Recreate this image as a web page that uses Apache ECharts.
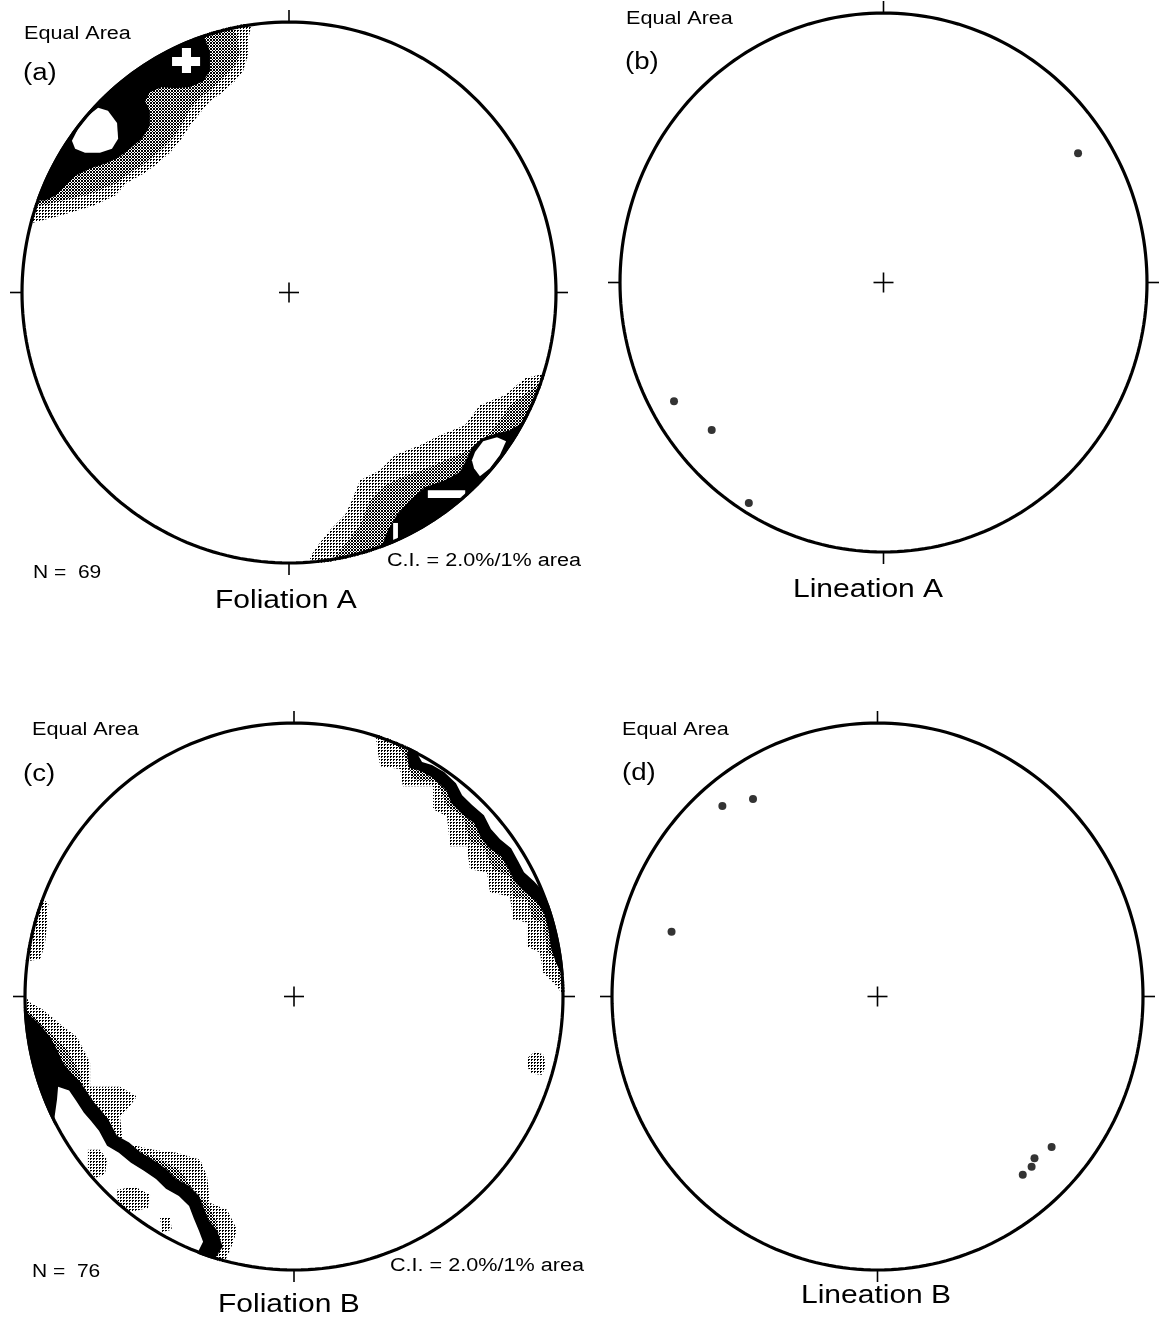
<!DOCTYPE html>
<html>
<head>
<meta charset="utf-8">
<script src="https://cdn.jsdelivr.net/npm/echarts@6/dist/echarts.min.js"></script>
<style>
html, body { margin: 0; padding: 0; background: #fff; }
#chart { width: 1164px; height: 1322px; }
</style>
</head>
<body>
<div id="chart"></div>
<script>
// ---- Lineations: [trend, plunge] in degrees (lower hemisphere) ----
const lineationA = [[57, 13], [241, 10], [230, 16], [212, 4]];
const lineationB = [[320, 10], [327, 15], [287, 20], [130, 15.5], [135, 17.5], [137, 16], [140, 16]];

// ---- Foliation pole density contours (equal-area coordinates, % of primitive radius) ----
// Level 1 = light stipple, 2 = dense stipple, 3 = black, 4 = highest (white)
// Foliation A, NW concentration
const folA_nw1 = [[-95.9,25.8],[-85.8,28.4],[-73.4,32.1],[-65.2,35.8],[-60.7,40.6],[-53.9,44.3],[-49.4,47.6],[-44.6,51.7],[-40.8,56.1],[-37.1,61.6],[-33.3,66.4],[-29.6,70.8],[-25.1,73.8],[-20.2,78.2],[-17.2,81.9],[-15.4,87.5],[-15.4,93.0],[-14.6,96.7],[-12,108],[-50,98],[-80,78],[-100,50],[-108,26]];
const folA_nw2 = [[-93.3,32.1],[-82,34.7],[-74.5,36.5],[-68.9,38.7],[-64.4,40.6],[-59.6,44.3],[-55.1,46.9],[-48.3,52.4],[-42.7,57.9],[-39,64.2],[-37.1,67.9],[-33.3,72],[-28.5,75.6],[-24,80.1],[-20.2,83.8],[-18.4,88.6],[-19.5,94.8],[-21,97.4],[-22,110],[-60,95],[-85,72],[-105,32]];
const folA_nw3 = [[-91.4,33.9],[-87.6,35.8],[-83.9,39.5],[-80.1,43.2],[-74.5,45.8],[-68.9,47.6],[-64,49.8],[-59.6,53.1],[-55.1,56.8],[-52.1,61.6],[-52.1,67.2],[-53.9,70.8],[-52.1,74],[-47.6,76],[-42.7,75.5],[-37.1,76],[-32.2,78],[-29.6,82],[-29.6,89.3],[-31.5,93.7],[-32,108],[-70,85],[-95,55],[-104,35]];
const folA_nw4a = [[-81.3,56.1],[-79,60.5],[-75.3,65.3],[-71.5,68.3],[-67.8,67.2],[-64.4,62.7],[-64,56.8],[-66.3,53.1],[-70.8,51.7],[-76.4,51.7],[-80.1,53.1]];
const folA_nw4b = [[-40.1,90.4],[-36.7,90.4],[-36.7,87.1],[-33.3,87.1],[-33.3,83.7],[-36.7,83.7],[-36.7,81.1],[-40.1,81.1],[-40.1,83.7],[-43.8,83.7],[-43.8,87.1],[-40.1,87.1]];
// Foliation A, SE concentration
const folA_se1 = [[7.9,-97.8],[10.9,-93.4],[15.4,-87.8],[21,-82.3],[23.6,-76.8],[26.6,-69.4],[34.1,-65.7],[39.7,-60.1],[49.1,-56.5],[56.6,-52.8],[65.9,-49.1],[71.5,-41.7],[80.9,-38],[88.4,-31.7],[95.9,-29.9],[102,-36],[85,-68],[55,-95],[8,-110]];
const folA_se2 = [[17.2,-97.4],[20.2,-94.1],[26.6,-86],[30.3,-76.8],[36,-71.2],[41.6,-68.6],[51.7,-64.9],[60.3,-61.3],[68.9,-57.6],[74.2,-52.8],[79,-47.2],[82.8,-41.7],[90.3,-36.2],[94.8,-32.5],[101,-40],[82,-72],[52,-98],[17,-108]];
const folA_se3 = [[34.1,-95.2],[37.1,-87.8],[40.4,-82.3],[45.3,-76.8],[50.9,-72],[58.4,-69.4],[64,-66.4],[66.3,-62],[68.5,-57.2],[72.3,-53.9],[77.9,-52],[82.8,-50.9],[86.5,-48.7],[89.1,-45],[98,-52],[80,-80],[55,-100],[34,-106]];
const folA_se4a = [[69.7,-59],[72.7,-55],[77.9,-53.5],[81.3,-55],[79,-60.1],[75.3,-65],[71.5,-67.9],[69.3,-65],[68.5,-62]];
const folA_se4b = [[52,-73.1],[66,-73.1],[66,-76],[52,-76]];
const folA_se4c = [[39,-85.2],[40.8,-85.2],[40.8,-91.5],[39,-91.5]];

// Foliation B, NE girdle
const folB_ne1 = [[30.5,94.1],[32,84.2],[39.4,83.2],[40.5,76.9],[51.7,76.9],[51.7,68.5],[56.9,65.9],[58,54.9],[64.3,54.9],[65.4,46.5],[71.7,45.4],[72.9,38.1],[80.3,36.6],[81.4,28.2],[86.6,27.1],[86.6,18.3],[91.4,16.1],[92.6,8.8],[97.8,3.7],[99.3,1.5],[110,0],[100,50],[70,85],[32,105]];
const folB_ne2 = [[37.5,92.3],[40.5,89.4],[44.2,79.5],[53.2,78.4],[56.9,69.6],[62.8,65.9],[65.4,56.4],[70.3,54.9],[74,46.5],[80.3,44],[81.4,36.6],[86.6,35.5],[88.8,28.2],[92.6,27.1],[94.1,16.1],[97.8,13.6],[98.9,5.1],[99.6,2.6],[110,0],[100,50],[70,85],[37,104]];
const folB_ne3 = [[42,88.5],[42.8,83.6],[47.3,82.4],[51.8,79.8],[56.6,75.4],[58.5,70.7],[62.2,67],[67,63.3],[69.6,57.8],[72.6,54.2],[77,51.2],[79.6,46.9],[81.9,42.1],[85.6,38.4],[90,34.8],[93,30.4],[94.5,24.9],[95.6,17.5],[97.5,12.1],[99.5,8.1],[110,5],[100,50],[70,85],[45,100]];
const folB_ne4 = [[46.1,88.3],[47.6,85.7],[51.3,84.6],[55.8,82.1],[60.2,78],[62.5,73.6],[66.2,70],[70.6,66.3],[73.2,61.2],[76.6,57.5],[80.7,54.2],[83.3,49.5],[85.5,45.4],[89.2,42.1],[92.6,38.5],[94.8,33.7],[106,38],[95,60],[70,85],[48,100]];
// Foliation B, minor patches
const folB_w1 = [[-93.7,36.3],[-91.4,33.7],[-91.8,26.4],[-92.6,19],[-94.4,13.6],[-106,12],[-106,30],[-100,42]];
const folB_e1 = [[87,-22.3],[89.6,-20.1],[92.6,-21.2],[93.7,-24.9],[92.2,-28.6],[88.5,-28.2],[86.6,-25.6]];
// Foliation B, SW girdle
const folB_sw1 = [[-99.6,-0.4],[-98.1,-2.2],[-93.3,-4.8],[-85.9,-11],[-80.7,-14.7],[-75.8,-24.2],[-75.8,-33],[-64.7,-33],[-58.4,-36.6],[-62.1,-41.4],[-64.7,-44],[-63.6,-53.5],[-52.4,-56],[-43.5,-57.1],[-34.9,-59.7],[-32.3,-65.9],[-31.2,-75.5],[-24.9,-78],[-21.2,-85.3],[-22.7,-90.1],[-25.6,-96.7],[-27,-108],[-70,-85],[-100,-45],[-110,0]];
const folB_sw2 = [[-100,-4],[-91.8,-12.1],[-84.4,-19.4],[-79.6,-27.8],[-77,-37.7],[-69.5,-44],[-65.8,-51.3],[-58.4,-56],[-49.8,-59.7],[-42.4,-63.4],[-37.5,-70.7],[-32.3,-75.5],[-28.6,-82.8],[-27.5,-90.1],[-28.3,-95.6],[-30,-108],[-70,-85],[-100,-45],[-110,-4]];
const folB_sw3 = [[-99.6,-5.5],[-94.4,-10.3],[-90.7,-14.7],[-88.1,-19.4],[-85.9,-24.2],[-82.9,-27.8],[-79.9,-30.7],[-77.3,-34.4],[-74.3,-38.8],[-71.7,-41.7],[-68.8,-45.4],[-65.8,-50.9],[-61.3,-53.4],[-56.9,-57.1],[-52,-60],[-47.6,-63],[-43.9,-66.6],[-39,-69.2],[-35.3,-72.9],[-33.4,-77.6],[-31.6,-82],[-28.6,-85.5],[-26.5,-91.5],[-29.4,-95.6],[-31,-107],[-70,-86],[-100,-46],[-110,-5]];
const folB_sw4 = [[-87.7,-33],[-83.6,-34.4],[-81,-38.1],[-78.1,-42.5],[-75.5,-45.4],[-72.5,-49.1],[-69.5,-54.6],[-65.1,-57.1],[-60.6,-60.8],[-55.8,-63.7],[-51.3,-66.7],[-47.6,-70.3],[-42.8,-72.9],[-39,-76.6],[-37.2,-81.3],[-35.3,-85.7],[-33.8,-89.7],[-35.7,-93.4],[-40,-105],[-65,-88],[-85,-70],[-89.2,-45.4],[-88.1,-37.7]];
const folB_sw5 = [[-76.6,-56],[-72.1,-56],[-69.5,-59.7],[-70.3,-65.2],[-74,-66.3],[-76.6,-62.6]];
const folB_sw6 = [[-65.8,-70.7],[-59.1,-69.6],[-53.5,-72.5],[-54.3,-77.3],[-60.9,-78.8],[-65.4,-75.5]];
const folB_sw7 = [[-49.8,-81],[-46.1,-81],[-45.4,-85.3],[-49.1,-86.1]];

// ---- Text ----
const panelLetters = ['(a)', '(b)', '(c)', '(d)'];
const panelTitles = ['Foliation A', 'Lineation A', 'Foliation B', 'Lineation B'];
const poleCounts = ['N =  69', null, 'N =  76', null];
const contourNote = 'C.I. = 2.0%/1% area';
const netName = 'Equal Area';

// Contour bands in drawing order (lowest level first)
const contoursA = [
  [1, folA_nw1], [1, folA_se1],
  [2, folA_nw2], [2, folA_se2],
  [3, folA_nw3], [3, folA_se3],
  [4, folA_nw4a], [4, folA_nw4b], [4, folA_se4a], [4, folA_se4b], [4, folA_se4c]
];
const contoursB = [
  [1, folB_ne1], [1, folB_sw1], [1, folB_w1], [1, folB_e1],
  [2, folB_ne2], [2, folB_sw2],
  [3, folB_ne3], [3, folB_sw3],
  [4, folB_ne4], [4, folB_sw4],
  [1, folB_sw5], [1, folB_sw6], [1, folB_sw7]
];

// ---- Layout of the four nets ----
const nets = [
  { grid: { left: 22, top: 22, width: 534, height: 541 }, contours: contoursA, points: null,
    text: { net: [24, 34], letter: [23, 74], count: [33, 573], note: [387, 561], title: [215, 601] } },
  { grid: { left: 620, top: 13, width: 527, height: 539 }, contours: null, points: lineationA,
    text: { net: [626, 19], letter: [625, 63], title: [793, 590] } },
  { grid: { left: 25, top: 723, width: 538, height: 547 }, contours: contoursB, points: null,
    text: { net: [32, 730], letter: [23, 775], count: [32, 1272], note: [390, 1266], title: [218, 1305] } },
  { grid: { left: 612, top: 723, width: 531, height: 547 }, contours: null, points: lineationB,
    text: { net: [622, 730], letter: [622, 774], title: [801, 1296] } }
];

// Stipple fills for the contour levels
function stipple(size, rects) {
  const c = document.createElement('canvas');
  c.width = size; c.height = size;
  const g = c.getContext('2d');
  g.fillStyle = '#fff'; g.fillRect(0, 0, size, size);
  g.fillStyle = '#000';
  rects.forEach(r => g.fillRect(r[0], r[1], r[2], r[3]));
  return { image: c, repeat: 'repeat' };
}
const levelFill = {
  1: stipple(3, [[0, 0, 2, 1], [0, 1, 1, 1]]),
  2: stipple(3, [[0, 0, 2, 2], [2, 2, 1, 1]]),
  3: '#000',
  4: '#fff'
};

// Equal-area (Schmidt) projection of a line, in % of primitive radius
function projectLine(tp) {
  const t = tp[0] * Math.PI / 180;
  const theta = (90 - tp[1]) * Math.PI / 180;
  const r = Math.SQRT2 * Math.sin(theta / 2) * 100;
  return [r * Math.sin(t), r * Math.cos(t)];
}

function ellipse(api, f) {
  const pts = [];
  const n = 240;
  for (let k = 0; k < n; k++) {
    const a = k / n * 2 * Math.PI;
    pts.push(api.coord([100 * f * Math.cos(a), 100 * f * Math.sin(a)]));
  }
  return pts;
}

const series = [];
nets.forEach((net, i) => {
  if (net.contours) {
    const bands = net.contours;
    series.push({
      type: 'custom', xAxisIndex: i, yAxisIndex: i, z: 2, silent: true, clip: false,
      data: bands.map(() => [0, 0]),
      renderItem: (params, api) => {
        const b = bands[params.dataIndex];
        return {
          type: 'polygon',
          shape: { points: b[1].map(v => api.coord(v)) },
          style: { fill: levelFill[b[0]], lineWidth: 0 }
        };
      }
    });
  }
});
// White surround that trims contour bands to the primitive circle
nets.forEach((net, i) => {
  series.push({
    type: 'custom', xAxisIndex: i, yAxisIndex: i, z: 3, silent: true, clip: false,
    data: [[0, 0]],
    renderItem: (params, api) => {
      const s = api.size([100, 100]);
      const f = 1 + 21.5 / Math.min(s[0], s[1]);
      return { type: 'polygon', shape: { points: ellipse(api, f) },
        style: { fill: 'none', stroke: '#fff', lineWidth: 40 } };
    }
  });
});
// Primitive circle, tick marks and centre cross
nets.forEach((net, i) => {
  series.push({
    type: 'custom', xAxisIndex: i, yAxisIndex: i, z: 4, silent: true, clip: false,
    data: [[0, 0]],
    renderItem: (params, api) => {
      const n = api.coord([0, 100]), s = api.coord([0, -100]);
      const e = api.coord([100, 0]), w = api.coord([-100, 0]);
      const c = api.coord([0, 0]);
      const tl = 12, ln = { stroke: '#000', lineWidth: 1.6 };
      return {
        type: 'group',
        children: [
          { type: 'polygon', shape: { points: ellipse(api, 1) }, style: { fill: 'none', stroke: '#000', lineWidth: 3.2 } },
          { type: 'line', shape: { x1: n[0], y1: n[1], x2: n[0], y2: n[1] - tl }, style: ln },
          { type: 'line', shape: { x1: s[0], y1: s[1], x2: s[0], y2: s[1] + tl }, style: ln },
          { type: 'line', shape: { x1: e[0], y1: e[1], x2: e[0] + tl, y2: e[1] }, style: ln },
          { type: 'line', shape: { x1: w[0], y1: w[1], x2: w[0] - tl, y2: w[1] }, style: ln },
          { type: 'line', shape: { x1: c[0] - 10, y1: c[1], x2: c[0] + 10, y2: c[1] }, style: ln },
          { type: 'line', shape: { x1: c[0], y1: c[1] - 10, x2: c[0], y2: c[1] + 10 }, style: ln }
        ]
      };
    }
  });
});
// Lineation points
nets.forEach((net, i) => {
  if (net.points) {
    series.push({
      type: 'scatter', xAxisIndex: i, yAxisIndex: i, z: 5, silent: true,
      symbol: 'circle', symbolSize: 8,
      itemStyle: { color: '#000' },
      data: net.points.map(projectLine)
    });
  }
});

// Text labels
const font = (size) => size + 'px "Liberation Sans", Arial, sans-serif';
const graphics = [];
function addText(str, pos, size) {
  graphics.push({
    type: 'text', x: pos[0], y: pos[1], scaleX: 1.2, z: 100, silent: true,
    style: { text: str, font: font(size), fill: '#000', align: 'left', verticalAlign: 'middle' }
  });
}
nets.forEach((net, i) => {
  addText(netName, net.text.net, 18);
  addText(panelLetters[i], net.text.letter, 23);
  addText(panelTitles[i], net.text.title, 25);
  if (net.text.count) addText(poleCounts[i], net.text.count, 17.5);
  if (net.text.note) addText(contourNote, net.text.note, 18);
});

const chart = echarts.init(document.getElementById('chart'), null, { renderer: 'canvas', width: 1164, height: 1322 });
chart.setOption({
  animation: false,
  backgroundColor: '#fff',
  grid: nets.map(n => Object.assign({ containLabel: false }, n.grid)),
  xAxis: nets.map((n, i) => ({ type: 'value', gridIndex: i, min: -100, max: 100, show: false })),
  yAxis: nets.map((n, i) => ({ type: 'value', gridIndex: i, min: -100, max: 100, show: false })),
  graphic: { elements: graphics },
  series: series
});
</script>
</body>
</html>
